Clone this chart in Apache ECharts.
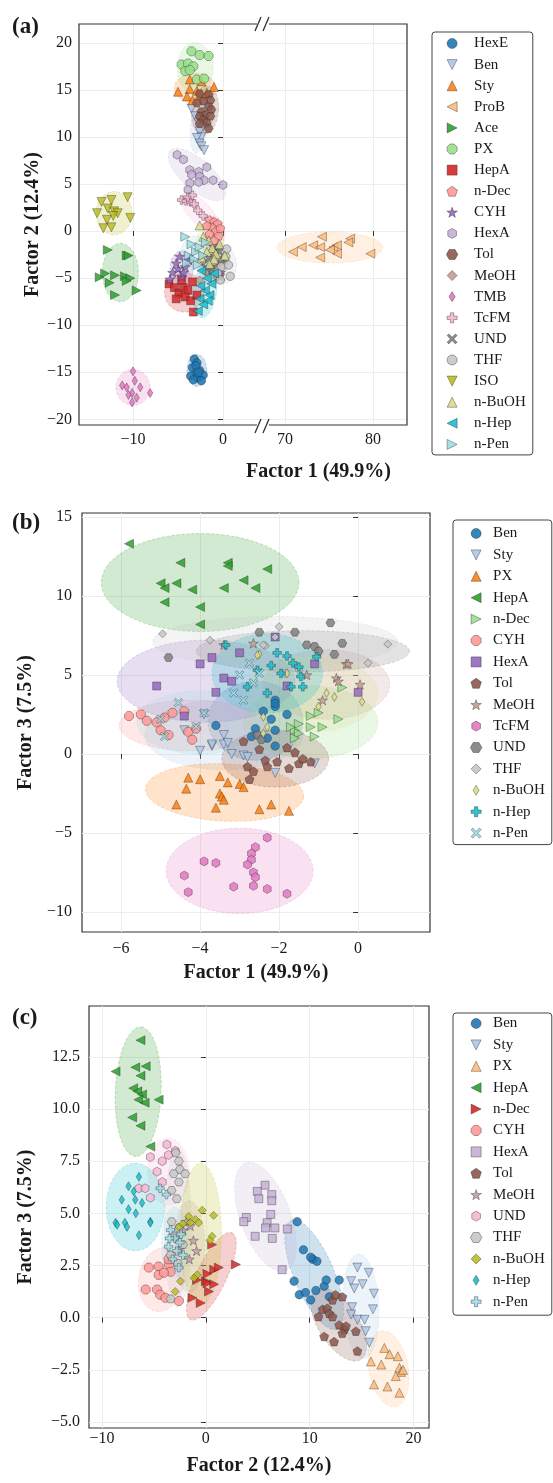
<!DOCTYPE html>
<html><head><meta charset="utf-8">
<script src="https://cdn.jsdelivr.net/npm/echarts@6/dist/echarts.min.js"></script>
<style>html,body{margin:0;padding:0;background:#fff}#c{width:553px;height:1483px}</style>
</head><body><div id="c"></div>
<script>
// ---------------- Panel (a): Factor 1 vs Factor 2 ----------------
const namesA = ['HexE','Ben','Sty','ProB','Ace','PX','HepA','n-Dec','CYH','HexA','Tol','MeOH','TMB','TcFM','UND','THF','ISO','n-BuOH','n-Hep','n-Pen'];
const colorsA = ['#1f77b4','#aec7e8','#ff7f0e','#ffbb78','#2ca02c','#98df8a','#d62728','#ff9896','#9467bd','#c5b0d5','#8c564b','#c49c94','#e377c2','#f7b6d2','#7f7f7f','#c7c7c7','#bcbd22','#dbdb8d','#17becf','#9edae5'];
const markersA = ['o','v','^','<','>','8','s','p','*','h','H','D','d','P','X','o','v','^','<','>'];
const aHexE = [[-3.2,-13.6],[-2.9,-14.0],[-3.4,-14.5],[-2.6,-14.8],[-3.0,-15.1],[-3.6,-15.4],[-2.2,-15.3],[-2.8,-15.6],[-3.3,-15.8],[-2.4,-15.9],[-3.0,-14.3],[-2.7,-15.0]];
const aBen = [[-3.5,13.0],[-3.1,12.2],[-2.7,11.5],[-2.2,11.1],[-2.6,10.6],[-2.4,10.0],[-2.9,9.9],[-2.6,9.3],[-2.4,9.0],[-2.1,8.6]];
const aSty = [[-5.0,14.8],[-3.7,16.1],[-2.4,15.9],[-1.0,15.3],[-3.7,15.1],[-2.9,14.9],[-4.0,14.3],[-3.4,13.9],[-2.5,14.5],[-1.8,14.7]];
const aProB = [[74.2,-0.6],[77.4,-0.8],[71.9,-1.7],[73.2,-1.5],[75.5,-1.7],[70.9,-2.2],[74.0,-1.7],[75.9,-1.5],[77.2,-1.2],[75.9,-2.4],[74.0,-2.8],[79.7,-2.4],[75.1,-2.0]];
const aAce = [[-12.8,-2.0],[-10.7,-2.6],[-10.5,-2.6],[-13.1,-4.5],[-12.0,-4.7],[-10.9,-4.8],[-10.3,-5.0],[-12.6,-5.5],[-10.7,-5.3],[-9.6,-6.3],[-12.0,-6.8],[-13.7,-4.9]];
const aPX = [[-3.5,19.1],[-2.6,18.7],[-1.6,18.6],[-4.6,17.7],[-3.9,17.8],[-3.3,17.5],[-4.2,17.0],[-2.9,16.1],[-2.1,16.2],[-3.7,17.1]];
const aHepA = [[-6.0,-5.6],[-5.4,-6.0],[-4.9,-6.6],[-4.4,-6.0],[-3.9,-6.3],[-3.4,-5.4],[-4.2,-7.0],[-5.2,-7.2],[-3.6,-7.4],[-3.3,-8.6],[-4.6,-5.2],[-2.9,-6.8]];
const aNDec = [[-1.5,1.2],[-1.0,1.0],[-0.6,0.8],[-1.2,0.4],[-0.8,0.0],[-1.5,-0.3],[-0.5,-0.5],[-1.0,-1.0],[-0.3,0.3],[-1.8,0.6]];
const aCYH = [[-5.6,-4.4],[-5.0,-4.0],[-4.6,-4.8],[-5.2,-3.4],[-4.2,-3.8],[-3.8,-3.1],[-4.8,-2.7],[-5.9,-5.1],[-4.4,-4.4],[-0.3,-4.4]];
const aHexA = [[-5.1,8.1],[-4.4,7.6],[-3.7,6.5],[-2.7,6.3],[-1.8,6.8],[-3.5,6.0],[-2.6,5.8],[-2.1,5.4],[-1.1,5.4],[0.0,4.9],[-3.7,5.1],[-2.7,5.2],[-3.9,4.4]];
const aTol = [[-2.6,14.6],[-1.6,14.5],[-1.4,13.9],[-2.2,13.8],[-2.9,13.6],[-1.6,13.2],[-1.3,12.9],[-2.4,12.7],[-2.0,12.3],[-2.6,12.2],[-1.4,12.2],[-2.2,11.8],[-1.8,11.5],[-2.6,11.4],[-1.6,10.9]];
const aMeOH = [[-2.6,-5.2],[-0.7,-4.9],[-1.5,-3.8],[-0.3,-3.3],[-1.9,-4.4],[-1.0,-2.6],[-0.5,-1.6],[-2.2,-3.2]];
const aTMB = [[-10.0,-14.9],[-11.2,-16.4],[-10.7,-16.6],[-9.8,-15.9],[-9.2,-16.6],[-10.1,-17.2],[-9.6,-17.7],[-10.1,-18.2],[-8.1,-17.2],[-10.5,-17.4]];
const aTcFM = [[-4.6,3.3],[-4.1,3.2],[-3.6,3.1],[-3.2,2.9],[-3.9,3.6],[-2.8,2.2],[-2.2,1.6],[-3.4,3.8]];
const aUND = [[-0.3,-4.9],[-1.2,-4.2],[-0.8,-3.5],[-1.6,-2.9],[-0.4,-2.2],[-1.9,-3.9],[0.1,-3.1],[-1.1,-1.8]];
const aTHF = [[0.8,-4.8],[-0.2,-3.8],[0.3,-2.7],[-0.6,-4.5],[0.4,-1.9],[-1.0,-3.2],[-0.3,-5.2],[0.6,-3.6]];
const aISO = [[-13.5,3.1],[-12.4,3.3],[-10.6,3.6],[-12.8,2.4],[-12.1,2.1],[-14.0,1.9],[-11.7,1.9],[-12.2,1.6],[-12.9,1.2],[-10.3,1.4],[-13.3,0.3],[-12.4,0.4]];
const aNBuOH = [[-2.6,0.6],[-2.2,-0.6],[-1.6,-1.0],[-1.2,-1.8],[-0.8,-2.4],[-1.8,-2.2],[-2.4,-2.8],[-1.0,-3.0],[-0.4,-1.4],[-1.5,-3.5],[0.2,-2.6]];
const aNHep = [[-2.4,-4.2],[-1.8,-5.0],[-1.3,-5.6],[-2.0,-6.3],[-1.5,-6.8],[-2.6,-7.2],[-2.2,-7.8],[-2.8,-8.5],[-1.0,-4.5],[-2.5,-5.8],[-1.7,-7.4]];
const aNPen = [[-4.2,-0.6],[-3.5,-1.4],[-3.0,-2.2],[-3.8,-2.6],[-2.6,-1.7],[-3.2,-3.0],[-2.2,-2.6],[-4.0,-3.4],[-2.8,-3.6],[-1.9,-1.2]];
const pointsA = [aHexE,aBen,aSty,aProB,aAce,aPX,aHepA,aNDec,aCYH,aHexA,aTol,aMeOH,aTMB,aTcFM,aUND,aTHF,aISO,aNBuOH,aNHep,aNPen];
// confidence ellipses: [cx, cy, semi-axis a (x,y), semi-axis b (x,y)] in data units
const ellipsesA = [
 [-2.9,-14.8,1.1,0,0,1.7],[-2.7,11.0,0.3,2.7,0.9,-0.1],[-3.1,15.2,2.3,0,0,1.6],[75.1,-1.75,6.0,0,0,1.65],
 [-11.4,-4.4,2.0,0,0,3.1],[-3.1,17.3,2.0,0,0,2.7],[-4.3,-6.5,2.2,0,0,2.1],[-1.0,-0.2,1.2,0,0,1.8],
 [-4.6,-3.9,1.3,0,0,1.8],[-2.9,6.0,3.0,-2.5,-1.1,-1.2],[-2.0,12.8,1.5,0,0.2,2.6],[-1.3,-3.6,1.4,0,0,2.2],
 [-10.0,-16.6,1.9,0,0,1.9],[-2.6,2.0,2.0,-1.9,0.8,0.9],[-0.9,-3.3,1.4,0,0,2.0],[0.0,-3.6,1.5,0,0,2.0],
 [-12.1,1.9,2.0,0,0,2.3],[-1.4,-1.6,1.6,0,0,2.6],[-2.0,-6.2,1.3,0,0.3,3.0],[-3.1,-2.3,1.6,0,0,1.8]];
const ticksAxLeft = [-10, 0];
const ticksAxRight = [70, 80];
const ticksAy = [-20,-15,-10,-5,0,5,10,15,20];

// ---------------- Panel (b): Factor 1 vs Factor 3 ----------------
const namesB = ['Ben','Sty','PX','HepA','n-Dec','CYH','HexA','Tol','MeOH','TcFM','UND','THF','n-BuOH','n-Hep','n-Pen'];
const colorsB = ['#1f77b4','#aec7e8','#ff7f0e','#2ca02c','#98df8a','#ff9896','#9467bd','#8c564b','#c49c94','#e377c2','#7f7f7f','#c7c7c7','#dbdb8d','#17becf','#9edae5'];
const markersB = ['o','v','^','<','>','8','s','p','*','h','H','D','d','P','X'];
const bBen = [[-3.6,1.8],[-2.1,3.4],[-2.1,3.0],[-2.2,2.2],[-2.6,1.6],[-2.1,1.5],[-2.1,0.5],[-2.7,1.1],[-2.3,1.0],[-2.4,2.7],[-2.1,3.2],[-1.8,2.5]];
const bSty = [[-3.9,2.5],[-3.4,1.2],[-3.4,0.6],[-4.0,0.2],[-3.7,0.5],[-3.2,0.0],[-2.9,-0.1],[-2.1,-1.2],[-1.1,-0.6],[-3.7,0.6],[-3.3,0.7],[-2.8,-0.2],[-4.4,1.5]];
const bPX = [[-4.3,-1.5],[-4.0,-1.6],[-4.35,-2.2],[-3.5,-1.4],[-3.3,-1.8],[-3.0,-1.9],[-2.9,-2.1],[-3.5,-2.5],[-3.45,-2.7],[-3.4,-2.9],[-4.6,-3.2],[-3.6,-3.4],[-2.5,-3.5],[-2.2,-3.2],[-1.75,-3.6]];
const bHepA = [[-5.8,13.3],[-4.5,12.1],[-3.3,12.1],[-3.3,11.9],[-2.3,11.7],[-5.0,10.8],[-4.9,10.5],[-4.6,10.8],[-4.2,10.4],[-3.4,10.5],[-2.9,11.0],[-2.6,10.5],[-4.9,9.6],[-4.0,9.3],[-4.0,8.2]];
const bNDec = [[-1.2,2.4],[-0.5,2.2],[-0.9,1.7],[-1.2,1.7],[-1.5,1.9],[-1.6,1.5],[-1.1,1.1],[-1.5,1.3],[-1.7,1.7],[-0.4,4.2],[-1.6,1.0],[-1.0,2.6]];
const bCYH = [[-5.8,2.4],[-5.5,2.5],[-5.35,2.1],[-4.9,2.3],[-5.0,1.5],[-4.8,1.2],[-4.7,2.6],[-4.4,2.7],[-4.3,1.4],[-4.1,1.6],[-4.2,0.9],[-5.1,2.0]];
const bHexA = [[-5.1,4.3],[-4.0,5.7],[-3.7,6.1],[-3.0,6.4],[-3.4,4.8],[-3.2,4.6],[-3.6,3.9],[-2.1,7.4],[-1.8,4.3],[-1.1,5.7],[0.0,3.9],[-4.4,2.4]];
const bTol = [[-2.8,-0.8],[-2.65,-1.1],[-2.35,-0.4],[-2.3,-0.8],[-2.05,-0.5],[-1.75,-0.9],[-1.5,-0.6],[-1.4,-0.3],[-1.2,-0.5],[-1.8,0.4],[-1.6,0.1],[-2.75,-1.6],[-2.9,0.8],[-2.5,0.3]];
const bMeOH = [[-2.65,7.0],[-0.3,5.7],[-0.55,4.8],[0.05,4.4],[-0.9,3.4],[-0.5,4.6],[-0.25,5.7],[-3.4,6.9],[-1.3,5.0]];
const bTcFM = [[-2.3,-5.3],[-2.6,-5.9],[-2.7,-6.3],[-2.7,-6.7],[-2.8,-7.0],[-3.9,-6.8],[-3.6,-6.9],[-2.65,-7.5],[-2.6,-7.8],[-4.4,-7.7],[-4.3,-8.75],[-3.15,-8.4],[-2.65,-8.35],[-2.3,-8.55],[-1.8,-8.85]];
const bUND = [[-4.8,6.1],[-1.6,7.7],[-0.7,8.3],[-0.4,7.0],[-0.6,6.3],[-1.1,6.8],[-1.3,6.9],[-1.0,6.5],[-2.5,7.7],[-2.55,1.2],[-2.45,0.9]];
const bTHF = [[-4.95,7.6],[-3.75,7.2],[-2.0,8.05],[-2.1,7.4],[-2.35,6.85],[0.75,6.95],[0.25,5.75],[-2.4,6.9],[-1.5,5.3],[-1.85,5.1]];
const bNBuOH = [[-2.5,6.3],[-1.8,5.1],[-0.8,3.85],[0.1,3.3],[-2.4,2.35],[-2.3,1.7],[-2.55,6.25],[-2.4,1.3],[-1.0,3.0],[-0.6,3.6]];
const bNHep = [[-2.05,6.4],[-1.8,6.2],[-1.65,5.75],[-1.95,5.1],[-1.45,4.9],[-2.55,5.3],[-2.8,4.25],[-2.3,3.85],[-1.4,4.25],[-3.35,6.9],[-1.05,6.15],[-1.7,4.25],[-2.2,5.6],[-1.5,5.5]];
const bNPen = [[-4.55,3.25],[-4.9,1.1],[-3.9,2.6],[-5.0,2.2],[-4.1,1.75],[-2.75,5.75],[-2.65,4.5],[-2.9,3.4],[-3.15,3.85],[-2.5,5.1],[-3.0,5.0]];
const pointsB = [bBen,bSty,bPX,bHepA,bNDec,bCYH,bHexA,bTol,bMeOH,bTcFM,bUND,bTHF,bNBuOH,bNHep,bNPen];
const ellipsesB = [
 [-2.6,2.1,1.2,0,0,2.5],[-3.4,1.2,2.0,0,0,2.2],[-3.38,-2.44,2.0,-0.3,0.1,1.8],[-4.0,10.85,2.5,0,0,3.1],
 [-1.2,2.0,1.7,0,0,2.3],[-4.2,1.8,1.85,0,0,1.6],[-3.85,4.6,2.25,0,0,2.6],[-2.1,-0.3,1.35,0,0,1.8],
 [-0.8,4.4,1.6,0,0,2.2],[-3.0,-7.4,1.86,0,0,2.7],[-1.4,6.5,2.7,0,0,1.3],[-2.1,7.1,3.1,0,0,1.6],
 [-1.2,3.8,1.7,0,0,2.4],[-2.3,5.1,1.4,0,0,2.5],[-4.0,2.0,1.6,0,0,2.0]];
const ticksBx = [-6,-4,-2,0];
const ticksBy = [-10,-5,0,5,10,15];

// ---------------- Panel (c): Factor 2 vs Factor 3 ----------------
const namesC = ['Ben','Sty','PX','HepA','n-Dec','CYH','HexA','Tol','MeOH','UND','THF','n-BuOH','n-Hep','n-Pen'];
const colorsC = ['#1f77b4','#aec7e8','#ffbb78','#2ca02c','#d62728','#ff9896','#c5b0d5','#8c564b','#c39bb3','#f7b6d2','#c7c7c7','#bcbd22','#17becf','#9edae5'];
const markersC = ['o','v','^','<','>','8','s','p','*','h','H','D','d','P'];
const cBen = [[8.8,4.6],[9.4,3.25],[10.3,2.8],[10.7,2.7],[8.5,1.75],[9.0,1.1],[9.6,1.2],[10.6,1.3],[10.1,0.85],[11.4,1.5],[11.6,1.8],[12.85,1.8],[11.9,1.0],[10.1,2.9]];
const cSty = [[14.6,2.4],[15.7,2.15],[14.0,1.75],[14.3,1.4],[15.1,1.6],[16.2,1.15],[14.1,0.5],[16.1,0.4],[14.0,0.15],[14.6,-0.1],[15.3,-0.1],[15.4,-0.65],[15.75,-1.2]];
const cPX = [[17.2,-1.45],[17.7,-1.75],[18.5,-1.85],[15.9,-2.1],[16.9,-2.25],[18.65,-2.4],[18.8,-2.6],[18.3,-2.8],[16.2,-3.2],[17.5,-3.3],[18.65,-3.6],[19.0,-2.5]];
const cHepA = [[-6.3,13.3],[-8.7,11.8],[-6.8,12.0],[-5.8,12.05],[-6.3,11.6],[-7.0,11.0],[-6.6,10.85],[-6.15,10.7],[-6.5,10.45],[-5.9,10.3],[-4.55,10.45],[-7.1,9.6],[-6.3,9.2],[-5.35,8.2]];
const cNDec = [[0.6,3.5],[0.8,2.3],[1.25,2.4],[2.9,2.55],[-0.85,1.8],[0.0,1.75],[0.15,1.65],[0.8,1.6],[0.3,1.25],[-1.3,0.95],[-0.5,0.7],[0.15,2.1]];
const cCYH = [[-5.5,2.4],[-4.55,2.45],[-3.55,2.55],[-3.4,2.2],[-4.55,2.05],[-4.05,2.15],[-5.8,1.35],[-4.7,1.35],[-4.4,1.1],[-3.9,0.95],[-2.6,0.8],[-3.6,2.8]];
const cHexA = [[5.7,6.35],[4.95,6.05],[5.1,5.7],[6.35,5.9],[6.35,5.6],[6.25,4.95],[3.9,4.8],[3.65,4.6],[5.9,4.55],[5.75,4.3],[6.65,4.3],[4.75,3.9],[6.4,3.8],[7.85,4.25],[7.35,2.3]];
const cTol = [[11.25,0.4],[11.7,0.45],[10.85,0.05],[11.9,0.2],[12.2,0.05],[13.15,1.0],[12.2,0.85],[12.5,1.1],[12.85,-0.35],[13.35,-0.55],[13.5,-0.4],[14.45,-0.65],[11.4,-0.9],[12.35,-1.15],[13.15,-0.75],[14.6,-1.6]];
const cMeOH = [[-1.9,4.6],[-1.5,4.4],[-2.2,4.2],[-1.2,3.7],[-1.6,2.8],[-2.5,3.3],[-0.9,3.2]];
const cUND = [[-3.75,8.3],[-5.35,7.7],[-4.2,7.5],[-2.95,8.0],[-4.7,7.0],[-6.45,6.2],[-5.85,6.2],[-5.35,5.75],[-4.2,6.5],[-3.6,7.8]];
const cTHF = [[-2.9,7.9],[-2.6,7.5],[-2.5,7.1],[-3.1,6.9],[-2.0,6.9],[-2.6,6.5],[-3.3,6.1],[-2.8,5.7],[-3.3,4.6],[-2.6,4.3],[-3.0,3.9],[-2.2,3.5],[-3.4,3.0],[-2.7,2.6],[-3.4,0.9]];
const cNBuOH = [[-0.35,5.15],[0.75,4.9],[-1.65,4.85],[-1.0,4.7],[-0.7,4.55],[-2.6,4.35],[-1.5,4.55],[0.6,3.9],[-2.45,1.75],[-2.95,1.25],[-0.85,2.05],[-1.15,1.9],[-2.2,4.5],[0.4,3.7]];
const cNHep = [[-6.45,6.75],[-7.45,6.3],[-6.95,6.05],[-8.1,5.65],[-6.8,5.65],[-6.15,5.5],[-7.45,5.2],[-6.75,5.0],[-8.7,4.55],[-7.8,4.55],[-5.35,4.6],[-8.55,4.45],[-7.6,4.35],[-6.45,3.95],[-5.35,4.55]];
const cNPen = [[-3.4,4.2],[-3.0,3.8],[-2.5,3.6],[-3.6,3.4],[-2.8,3.2],[-2.2,3.0],[-3.2,2.8],[-2.6,2.4],[-3.5,3.8],[-2.4,4.0],[-4.4,6.2],[-3.8,5.9]];
const pointsC = [cBen,cSty,cPX,cHepA,cNDec,cCYH,cHexA,cTol,cMeOH,cUND,cTHF,cNBuOH,cNHep,cNPen];
const ellipsesC = [
 [10.43,2.06,2.2,-2.6,1.78,0.37],[14.96,0.55,0.3,-2.5,1.7,0.1],[17.6,-2.45,0.8,-1.8,1.8,0.3],[-6.52,10.83,0.3,3.1,2.2,-0.1],
 [0.53,1.98,2.01,2.08,1.3,-0.31],[-4.3,1.82,2.2,0.3,-0.2,1.5],[5.75,4.83,1.93,-2.58,2.26,0.42],[12.8,-0.33,2.13,-1.67,1.64,0.51],
 [-1.6,3.4,1.5,0,0,2.2],[-3.6,7.0,2.0,0,0,1.6],[-2.7,4.3,1.3,0,0,3.8],[-0.5,4.0,2.0,0,0,3.4],
 [-6.8,5.3,2.8,0,0,2.1],[-3.0,3.6,1.3,0,0,1.7]];
const ticksCx = [-10,0,10,20];
const ticksCy = [-5,-2.5,0,2.5,5,7.5,10,12.5];

// ---------------- helpers ----------------
const SERIF = '"Liberation Serif","DejaVu Serif",serif';
function poly(n, startDeg, radii){
  let s = 'path://';
  for(let k=0;k<n;k++){
    const r = radii[k % radii.length];
    const a = (startDeg + 360*k/n) * Math.PI/180;
    s += (k ? 'L' : 'M') + (1 + r*Math.cos(a)).toFixed(3) + ',' + (1 + r*Math.sin(a)).toFixed(3);
  }
  return s + 'Z';
}
const SYM = {
  'o':'circle',
  'v':'path://M0,0L2,0L1,2Z',
  '^':'path://M1,0L2,2L0,2Z',
  '<':'path://M0,1L2,0L2,2Z',
  '>':'path://M2,1L0,0L0,2Z',
  '8':poly(8,22.5,[1]),
  's':'path://M0,0L2,0L2,2L0,2Z',
  'p':poly(5,-90,[1]),
  '*':poly(10,-90,[1,0.4]),
  'h':poly(6,-90,[1]),
  'H':poly(6,0,[1]),
  'D':'path://M1,0L2,1L1,2L0,1Z',
  'd':'path://M0.6,0L1.2,1L0.6,2L0,1Z',
  'P':'path://M1,0L2,0L2,1L3,1L3,2L2,2L2,3L1,3L1,2L0,2L0,1L1,1Z',
  'X':'path://M0.5,0L1.5,1L2.5,0L3,0.5L2,1.5L3,2.5L2.5,3L1.5,2L0.5,3L0,2.5L1,1.5L0,0.5Z'
};
const SYMSIZE = {'o':8.5,'8':9,'s':8,'D':8,'d':9,'*':10,'P':8.5,'X':8.5};
function rgba(hex, a){
  const v = parseInt(hex.slice(1),16);
  return 'rgba(' + ((v>>16)&255) + ',' + ((v>>8)&255) + ',' + (v&255) + ',' + a + ')';
}
const minus = v => String(v).replace('-', '\u2212');
const EDGE = 'rgba(35,35,35,0.6)';

function scatter(prefix, name, pts, color, mk, xi, yi){
  return {type:'scatter', name: prefix + name, xAxisIndex:xi, yAxisIndex:yi, data: pts,
    symbol: SYM[mk], symbolSize: SYMSIZE[mk] || 9, symbolKeepAspect: true, z: 3,
    itemStyle:{color: color, borderColor: EDGE, borderWidth: 0.7, opacity: 0.85},
    emphasis:{disabled:true}, animation:false};
}
function ellipse(prefix, name, e, color, xi, yi){
  return {type:'custom', name: prefix + 'ell:' + name, xAxisIndex:xi, yAxisIndex:yi, data:[e], clip:true, z:1, silent:true, animation:false,
    renderItem: function(params, api){
      const cx=api.value(0), cy=api.value(1), ax=api.value(2), ay=api.value(3), bx=api.value(4), by=api.value(5);
      const pts = [];
      for(let k=0;k<90;k++){
        const t = k/90*2*Math.PI;
        pts.push(api.coord([cx + ax*Math.cos(t) + bx*Math.sin(t), cy + ay*Math.cos(t) + by*Math.sin(t)]));
      }
      return {type:'polygon', shape:{points:pts}, style:{fill: rgba(color,0.22), stroke: rgba(color,0.35), lineWidth:0.8, lineDash:[3,2]}};
    }};
}
function axis(min, max, ticks, margin, fmt, extra){
  return Object.assign({type:'value', min:min, max:max,
    axisLine:{show:false},
    axisTick:{show:true, length:5, customValues: ticks, lineStyle:{color:'#333', width:1}},
    axisLabel:{customValues: ticks, fontFamily: SERIF, fontSize: 16, color:'#1a1a1a', margin: margin, formatter: fmt || minus},
    splitLine:{show:true, lineStyle:{color:'#ececec', width:1}}
  }, extra || {});
}
function legend(prefix, names, colors, markers, box){
  return {orient:'vertical', left: box.left, top: box.top, padding: box.padding,
    itemWidth: box.itemWidth, itemHeight: 10, itemGap: box.gap, selectedMode:false,
    borderColor:'#444', borderWidth:1, borderRadius:3, backgroundColor:'#fff',
    formatter: n => n.slice(prefix.length),
    textStyle:{fontFamily: SERIF, fontSize: 15, color:'#1a1a1a', lineHeight: 14},
    data: names.map((n,i) => ({name: prefix + n, icon: SYM[markers[i]],
      itemStyle:{color: colors[i], borderColor: EDGE, borderWidth: 0.7, opacity: 0.9}}))};
}
const titleStyle = {fontFamily: SERIF, fontSize: 20, fontWeight:'bold', color:'#1a1a1a'};

// ---------------- build series ----------------
const series = [];
namesA.forEach((n,i) => {
  const ax = pointsA[i][0][0] > 30 ? 1 : 0;   // values beyond the axis break go to the right segment
  series.push(ellipse('a:', n, ellipsesA[i], colorsA[i], ax, ax));
});
namesA.forEach((n,i) => {
  const ax = pointsA[i][0][0] > 30 ? 1 : 0;
  series.push(scatter('a:', n, pointsA[i], colorsA[i], markersA[i], ax, ax));
});
namesB.forEach((n,i) => series.push(ellipse('b:', n, ellipsesB[i], colorsB[i], 2, 2)));
namesB.forEach((n,i) => series.push(scatter('b:', n, pointsB[i], colorsB[i], markersB[i], 2, 2)));
namesC.forEach((n,i) => series.push(ellipse('c:', n, ellipsesC[i], colorsC[i], 3, 3)));
namesC.forEach((n,i) => series.push(scatter('c:', n, pointsC[i], colorsC[i], markersC[i], 3, 3)));

const option = {
  backgroundColor:'#fff',
  animation:false,
  grid:[
    {left:79, top:24, width:184, height:401},
    {left:263, top:24, width:144, height:401},
    {left:82, top:513, width:348, height:419, show:true, borderColor:'#333', borderWidth:1.2, backgroundColor:'transparent'},
    {left:89, top:1006, width:340, height:422, show:true, borderColor:'#333', borderWidth:1.2, backgroundColor:'transparent'}
  ],
  xAxis:[
    axis(-16, 4.44, ticksAxLeft, 7, null, {gridIndex:0}),
    axis(67.5, 83.86, ticksAxRight, 7, null, {gridIndex:1}),
    axis(-6.99, 1.82, ticksBx, 9, null, {gridIndex:2, name:'Factor 1 (49.9%)', nameLocation:'middle', nameGap:31, nameTextStyle:titleStyle}),
    axis(-11.26, 21.5, ticksCx, 3, null, {gridIndex:3, name:'Factor 2 (12.4%)', nameLocation:'middle', nameGap:28, nameTextStyle:titleStyle})
  ],
  yAxis:[
    axis(-20.6, 22, ticksAy, 7, null, {gridIndex:0, name:'Factor 2 (12.4%)', nameLocation:'middle', nameGap:36, nameTextStyle:titleStyle}),
    axis(-20.6, 22, ticksAy, 7, null, {gridIndex:1, axisLabel:{show:false}, axisTick:{show:false, customValues: ticksAy}}),
    axis(-11.27, 15.25, ticksBy, 10, null, {gridIndex:2, name:'Factor 3 (7.5%)', nameLocation:'middle', nameGap:43, nameTextStyle:titleStyle}),
    axis(-5.29, 14.94, ticksCy, 9, v => minus(v.toFixed(1)), {gridIndex:3, name:'Factor 3 (7.5%)', nameLocation:'middle', nameGap:53, nameTextStyle:titleStyle})
  ],
  legend:[
    legend('a:', namesA, colorsA, markersA, {left:432, top:32, padding:[4,7,3,14], itemWidth:34, gap:6.1}),
    legend('b:', namesB, colorsB, markersB, {left:453, top:520, padding:[6,7,4,17], itemWidth:24, gap:6.4}),
    legend('c:', namesC, colorsC, markersC, {left:453, top:1013, padding:[3,7,6,17], itemWidth:24, gap:6.4})
  ],
  graphic:[
    {type:'rect', z:10, shape:{x:79, y:24, width:328, height:401}, style:{fill:'none', stroke:'#333', lineWidth:1.2}},
    {type:'rect', z:11, shape:{x:257, y:20, width:12, height:8}, style:{fill:'#fff'}},
    {type:'rect', z:11, shape:{x:257, y:421, width:12, height:8}, style:{fill:'#fff'}},
    {type:'line', z:12, shape:{x1:255, y1:31, x2:261, y2:17}, style:{stroke:'#333', lineWidth:1.3}},
    {type:'line', z:12, shape:{x1:263, y1:31, x2:269, y2:17}, style:{stroke:'#333', lineWidth:1.3}},
    {type:'line', z:12, shape:{x1:255, y1:433, x2:261, y2:419}, style:{stroke:'#333', lineWidth:1.3}},
    {type:'line', z:12, shape:{x1:263, y1:433, x2:269, y2:419}, style:{stroke:'#333', lineWidth:1.3}},
    {type:'text', z:12, left:246, top:462, style:{text:'Factor 1 (49.9%)', font:'bold 20px ' + SERIF, fill:'#1a1a1a', textAlign:'center'}},
    {type:'text', z:12, left:12, top:16, style:{text:'(a)', font:'bold 23px ' + SERIF, fill:'#1a1a1a'}},
    {type:'text', z:12, left:12, top:512, style:{text:'(b)', font:'bold 23px ' + SERIF, fill:'#1a1a1a'}},
    {type:'text', z:12, left:12, top:1007, style:{text:'(c)', font:'bold 23px ' + SERIF, fill:'#1a1a1a'}}
  ],
  series: series
};
const chart = echarts.init(document.getElementById('c'), null, {renderer:'canvas'});
chart.setOption(option);
</script></body></html>
